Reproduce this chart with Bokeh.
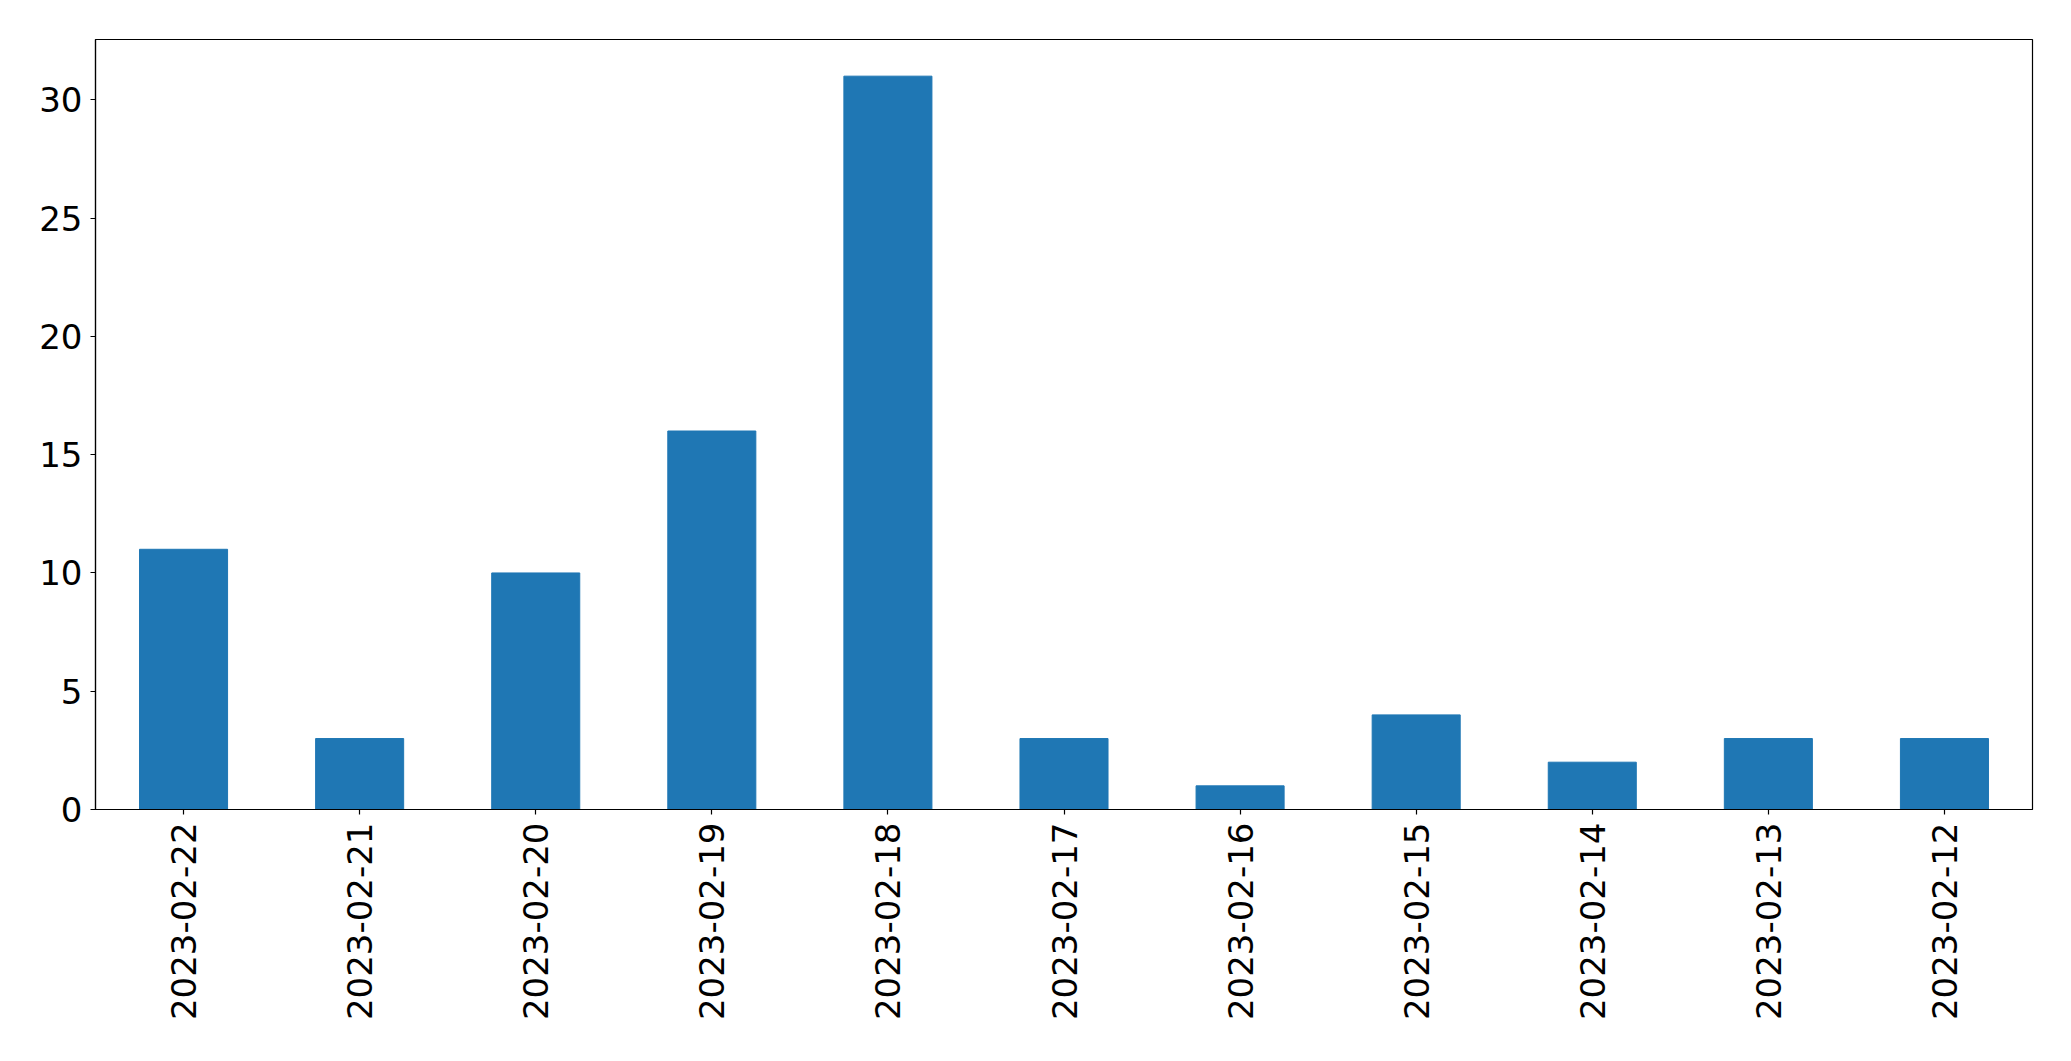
import math
from bokeh.plotting import figure
from bokeh.models import FactorRange, Range1d, FixedTicker, ColumnDataSource
from bokeh.embed import file_html
from bokeh.resources import INLINE

dates = ["2023-02-22", "2023-02-21", "2023-02-20", "2023-02-19", "2023-02-18",
         "2023-02-17", "2023-02-16", "2023-02-15", "2023-02-14", "2023-02-13",
         "2023-02-12"]
counts = [11, 3, 10, 16, 31, 3, 1, 4, 2, 3, 3]
y_ticks = [0, 5, 10, 15, 20, 25, 30]

src = ColumnDataSource(dict(date=dates, count=counts))

p = figure(x_range=FactorRange(*dates, range_padding=0),
           y_range=Range1d(0, max(counts) * 1.05),
           width=2063, height=1053, output_backend="svg", toolbar_location=None,
           min_border_left=95, min_border_right=31, min_border_top=39,
           min_border_bottom=244)

p.vbar(x="date", top="count", width=0.5, source=src, color="#1f77b4")

p.xgrid.visible = False
p.ygrid.visible = False
p.outline_line_color = "black"
p.outline_line_width = 1.2

for ax in (p.xaxis[0], p.yaxis[0]):
    ax.axis_line_color = "black"
    ax.axis_line_width = 1.2
    ax.major_tick_line_color = "black"
    ax.major_tick_line_width = 1.2
    ax.major_tick_in = 0
    ax.major_tick_out = 5
    ax.minor_tick_line_color = None
    ax.major_label_text_font = "DejaVu Sans"
    ax.major_label_text_font_size = "34px"
    ax.major_label_text_color = "black"
    ax.major_label_standoff = 8

p.yaxis.ticker = FixedTicker(ticks=y_ticks)
p.xaxis.major_label_orientation = math.pi / 2

open("out.html", "w").write(file_html(p, INLINE))
